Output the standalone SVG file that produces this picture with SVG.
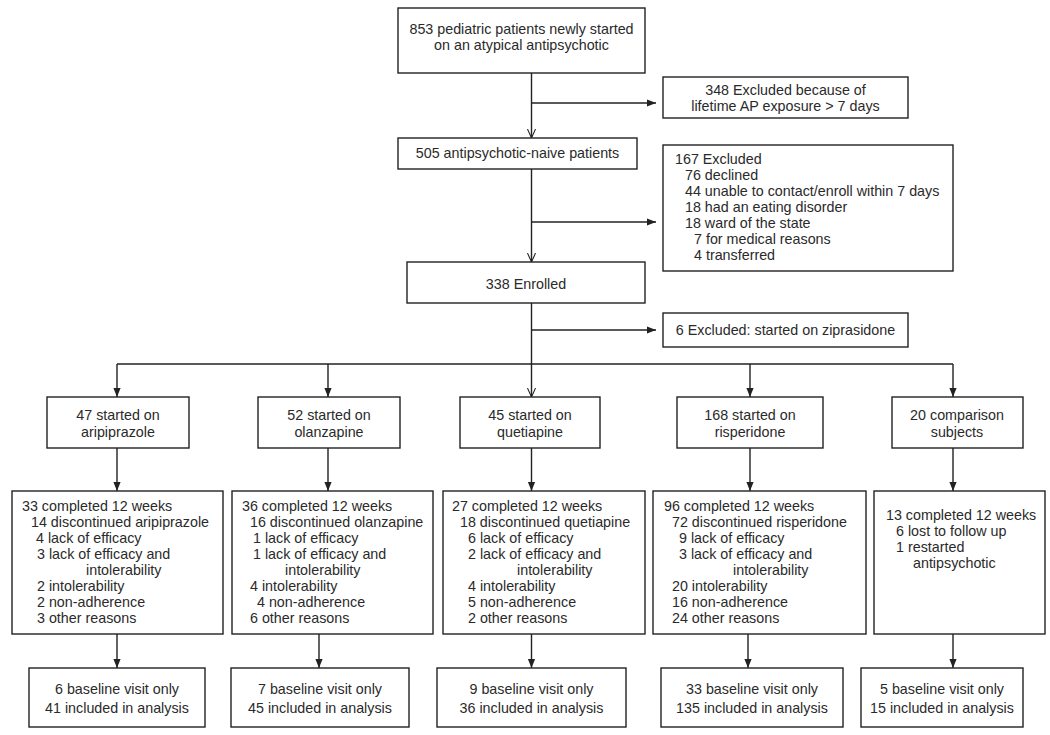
<svg xmlns="http://www.w3.org/2000/svg" width="1050" height="735" viewBox="0 0 1050 735">
<defs>
<style>
rect.b{fill:#fff;stroke:#222;stroke-width:1.4}
text{font-family:"Liberation Sans",Arial,sans-serif;font-size:14.3px;fill:#2a2a2a}
text.c{text-anchor:middle}
.ln{stroke:#222;stroke-width:1.4;fill:none}
.fa{marker-end:url(#arr)}
.va{marker-end:url(#varr)}
</style>
<marker id="arr" viewBox="0 0 10 10" refX="10" refY="5" markerWidth="9" markerHeight="9" orient="auto" markerUnits="userSpaceOnUse"><path d="M0,1 L10,5 L0,9 z" fill="#222"/></marker>
<marker id="varr" viewBox="0 0 10 10" refX="10" refY="5" markerWidth="9" markerHeight="9" orient="auto" markerUnits="userSpaceOnUse"><path d="M0,0.5 L10,5 L0,9.5" fill="none" stroke="#222" stroke-width="1.2"/></marker>
</defs>
<rect width="1050" height="735" fill="#fff"/>
<g id="connectors">
<path class="ln va" d="M531.5,73 V138"/>
<path class="ln fa" d="M531.5,103 H656"/>
<path class="ln va" d="M531.5,169 V262"/>
<path class="ln fa" d="M531.5,222 H656"/>
<path class="ln" d="M531.5,303 V364"/>
<path class="ln fa" d="M531.5,330 H656"/>
<path class="ln" d="M117,364 H953"/>
<path class="ln fa" d="M117,364 V397"/>
<path class="ln fa" d="M328,364 V397"/>
<path class="ln va" d="M531.5,364 V397"/>
<path class="ln fa" d="M750,364 V397"/>
<path class="ln fa" d="M953,364 V397"/>
<path class="ln fa" d="M117,448 V491"/>
<path class="ln fa" d="M328,448 V491"/>
<path class="ln fa" d="M531.5,448 V491"/>
<path class="ln fa" d="M750,448 V491"/>
<path class="ln fa" d="M953,448 V491"/>
<path class="ln fa" d="M117,634 V668"/>
<path class="ln fa" d="M319,634 V668"/>
<path class="ln fa" d="M531.5,634 V668"/>
<path class="ln fa" d="M748,634 V668"/>
<path class="ln fa" d="M953,634 V668"/>
</g>
<g id="n853"><rect class="b" x="398" y="8" width="247" height="65"/>
<text class="c" x="521.5" y="34">853 pediatric patients newly started</text>
<text class="c" x="521.5" y="50">on an atypical antipsychotic</text></g>
<g id="ex348"><rect class="b" x="663" y="77" width="245" height="41"/>
<text class="c" x="785.5" y="95">348 Excluded because of</text>
<text class="c" x="785.5" y="111">lifetime AP exposure &gt; 7 days</text></g>
<g id="n505"><rect class="b" x="398" y="138" width="239" height="31"/>
<text class="c" x="517.5" y="158">505 antipsychotic-naive patients</text></g>
<g id="ex167"><rect class="b" x="663" y="145" width="290" height="126"/>
<text x="675" y="164">167 Excluded</text>
<text x="685" y="180">76 declined</text>
<text x="685" y="196">44 unable to contact/enroll within 7 days</text>
<text x="685" y="212">18 had an eating disorder</text>
<text x="685" y="228">18 ward of the state</text>
<text x="694" y="244">7 for medical reasons</text>
<text x="694" y="260">4 transferred</text></g>
<g id="n338"><rect class="b" x="407" y="262" width="238" height="41"/>
<text class="c" x="526" y="289">338 Enrolled</text></g>
<g id="ex6"><rect class="b" x="663" y="313" width="245" height="34"/>
<text class="c" x="785.5" y="335">6 Excluded: started on ziprasidone</text></g>
<g id="ari"><rect class="b" x="47" y="397" width="142" height="51"/>
<text class="c" x="118" y="420">47 started on</text>
<text class="c" x="118" y="437">aripiprazole</text></g>
<g id="ola"><rect class="b" x="258" y="397" width="142" height="51"/>
<text class="c" x="329" y="420">52 started on</text>
<text class="c" x="329" y="437">olanzapine</text></g>
<g id="que"><rect class="b" x="460" y="397" width="140" height="51"/>
<text class="c" x="530" y="420">45 started on</text>
<text class="c" x="530" y="437">quetiapine</text></g>
<g id="ris"><rect class="b" x="677" y="397" width="146" height="51"/>
<text class="c" x="750" y="420">168 started on</text>
<text class="c" x="750" y="437">risperidone</text></g>
<g id="cmp"><rect class="b" x="892" y="397" width="131" height="51"/>
<text class="c" x="957" y="420">20 comparison</text>
<text class="c" x="957" y="437">subjects</text></g>
<g id="ari2"><rect class="b" x="12" y="491" width="211" height="143"/>
<text x="22" y="511">33 completed 12 weeks</text>
<text x="31" y="527">14 discontinued aripiprazole</text>
<text x="36" y="543">4 lack of efficacy</text>
<text x="37" y="559">3 lack of efficacy and</text>
<text x="86" y="575">intolerability</text>
<text x="37" y="591">2 intolerability</text>
<text x="37" y="607">2 non-adherence</text>
<text x="37" y="623">3 other reasons</text></g>
<g id="ola2"><rect class="b" x="232" y="491" width="201" height="143"/>
<text x="242" y="511">36 completed 12 weeks</text>
<text x="250" y="527">16 discontinued olanzapine</text>
<text x="253" y="543">1 lack of efficacy</text>
<text x="253" y="559">1 lack of efficacy and</text>
<text x="285" y="575">intolerability</text>
<text x="250" y="591">4 intolerability</text>
<text x="257" y="607">4 non-adherence</text>
<text x="250" y="623">6 other reasons</text></g>
<g id="que2"><rect class="b" x="443" y="491" width="202" height="143"/>
<text x="452" y="511">27 completed 12 weeks</text>
<text x="460" y="527">18 discontinued quetiapine</text>
<text x="468" y="543">6 lack of efficacy</text>
<text x="468" y="559">2 lack of efficacy and</text>
<text x="517" y="575">intolerability</text>
<text x="468" y="591">4 intolerability</text>
<text x="468" y="607">5 non-adherence</text>
<text x="468" y="623">2 other reasons</text></g>
<g id="ris2"><rect class="b" x="653" y="491" width="213" height="143"/>
<text x="664" y="511">96 completed 12 weeks</text>
<text x="672" y="527">72 discontinued risperidone</text>
<text x="679" y="543">9 lack of efficacy</text>
<text x="679" y="559">3 lack of efficacy and</text>
<text x="733" y="575">intolerability</text>
<text x="672" y="591">20 intolerability</text>
<text x="672" y="607">16 non-adherence</text>
<text x="672" y="623">24 other reasons</text></g>
<g id="cmp2"><rect class="b" x="874" y="491" width="171" height="143"/>
<text x="886" y="520">13 completed 12 weeks</text>
<text x="896" y="536">6 lost to follow up</text>
<text x="896" y="552">1 restarted</text>
<text x="913" y="568">antipsychotic</text></g>
<g id="ari3"><rect class="b" x="29" y="668" width="176" height="59"/>
<text class="c" x="117" y="694">6 baseline visit only</text>
<text class="c" x="117" y="713">41 included in analysis</text></g>
<g id="ola3"><rect class="b" x="231" y="668" width="178" height="59"/>
<text class="c" x="320" y="694">7 baseline visit only</text>
<text class="c" x="320" y="713">45 included in analysis</text></g>
<g id="que3"><rect class="b" x="437" y="668" width="189" height="59"/>
<text class="c" x="531.5" y="694">9 baseline visit only</text>
<text class="c" x="531.5" y="713">36 included in analysis</text></g>
<g id="ris3"><rect class="b" x="661" y="668" width="182" height="59"/>
<text class="c" x="752" y="694">33 baseline visit only</text>
<text class="c" x="752" y="713">135 included in analysis</text></g>
<g id="cmp3"><rect class="b" x="861" y="668" width="162" height="59"/>
<text class="c" x="942" y="694">5 baseline visit only</text>
<text class="c" x="942" y="713">15 included in analysis</text></g>
</svg>
